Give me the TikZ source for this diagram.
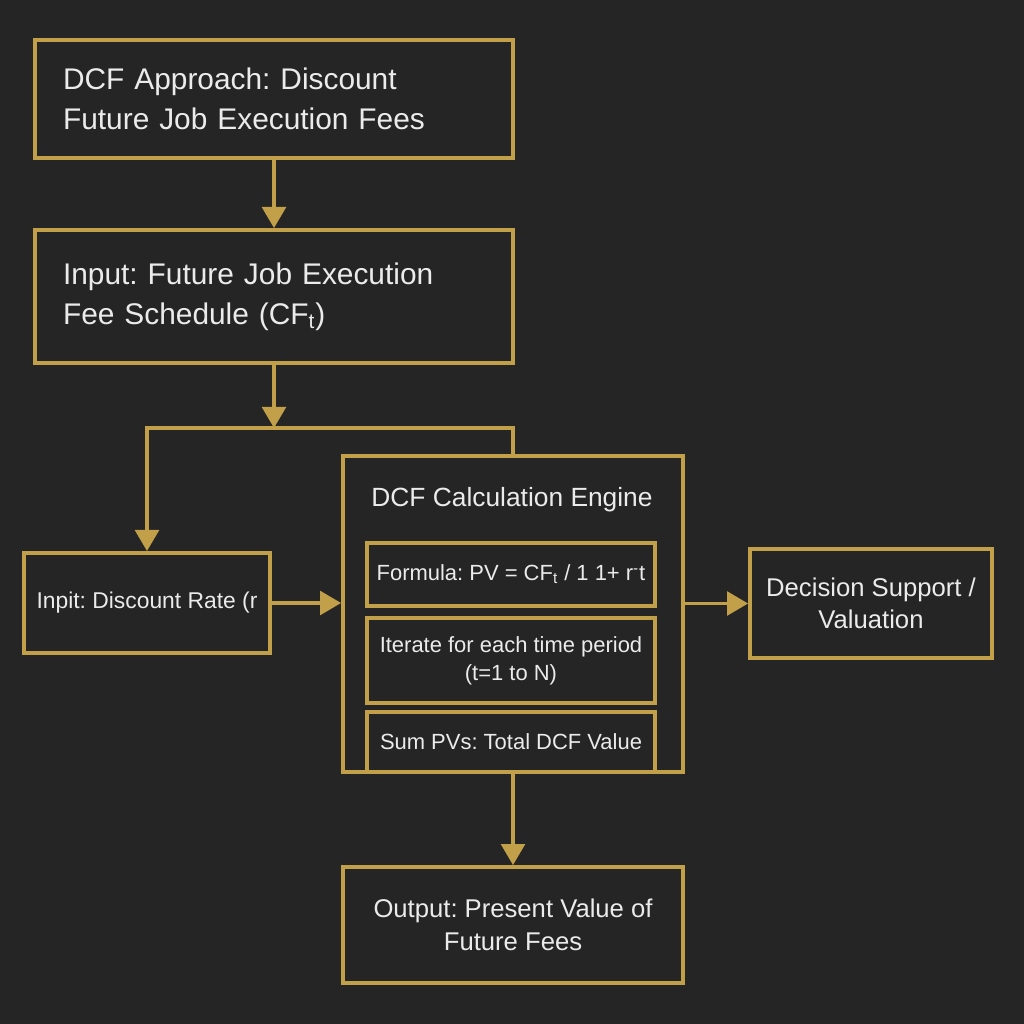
\documentclass[tikz,border=0pt]{standalone}
\usepackage{fontspec}
\setmainfont{Liberation Sans}
\usetikzlibrary{arrows.meta,positioning}
\definecolor{bgdark}{HTML}{252525}
\definecolor{gold}{HTML}{C2A049}
\definecolor{paper}{HTML}{EBEBEB}
\frenchspacing

\begin{document}
\begin{tikzpicture}[
    x=0.02cm, y=-0.02cm,
    every node/.style={text=paper},
    box/.style={draw=gold, line width=2.2pt, fill=bgdark, rectangle, inner sep=0pt},
    leftbox/.style={box, align=left, text width=8.44cm, minimum width=9.56cm, font=\fontsize{17}{23}\selectfont},
    midbox/.style={box, align=center, font=\fontsize{14.6}{18.5}\selectfont},
    subbox/.style={box, align=center, minimum width=5.76cm, font=\fontsize{12.5}{16}\selectfont},
    arrow/.style={-{Triangle[length=12pt, width=13.5pt]}, draw=gold, line width=2pt}
]
\fill[bgdark] (0,0) rectangle (1024,1024);
\useasboundingbox (0,0) rectangle (1024,1024);

% top of the chain
\node[leftbox, minimum height=2.36cm] (approach) at (274,99) {DCF Approach: Discount\\Future Job Execution Fees};
\node[leftbox, minimum height=2.66cm] (fees) at (274,296.5) {Input: Future Job Execution\\Fee Schedule (CF\textsubscript{t})};

% engine and its steps
\node[box, minimum width=6.8cm, minimum height=6.32cm] (engine) at (513,614) {};
\node[font=\fontsize{15}{18}\selectfont] (enginetitle) at (512,500) {DCF Calculation Engine};
\node[subbox, minimum height=1.26cm] (formula) at (511,574.5) {Formula: PV = CF\textsubscript{t} / 1 1+ r\textsuperscript{-}t};
\node[subbox, minimum height=1.7cm] (iterate) at (511,660.5) {Iterate for each time period\\(t=1 to N)};
\node[subbox, minimum height=1.2cm] (sum) at (511,742) {Sum PVs: Total DCF Value};

% side boxes
\node[box, minimum width=4.92cm, minimum height=2cm, font=\fontsize{13}{16}\selectfont] (rate) at (147,603) {Inpit: Discount Rate (r};
\node[midbox, minimum width=4.84cm, minimum height=2.18cm] (decision) at (871,603.5) {Decision Support /\\Valuation};
\node[midbox, minimum width=6.8cm, minimum height=2.32cm] (output) at (513,925) {Output: Present Value of\\Future Fees};

% junction above the engine
\coordinate (split) at (274,428);
\coordinate (splitleft) at (147,428);
\coordinate (splitright) at (513,428);

\draw[arrow] (approach) -- (fees);
\draw[arrow] (fees) -- (split);
\draw[arrow, shorten <=-1pt] (engine.north) -- (splitright) -- (splitleft) -- (rate);
\draw[arrow] (rate) -- (rate -| engine.west);
\draw[arrow] (engine.east |- decision) -- (decision);
\draw[arrow] (engine) -- (output);
\end{tikzpicture}
\end{document}
